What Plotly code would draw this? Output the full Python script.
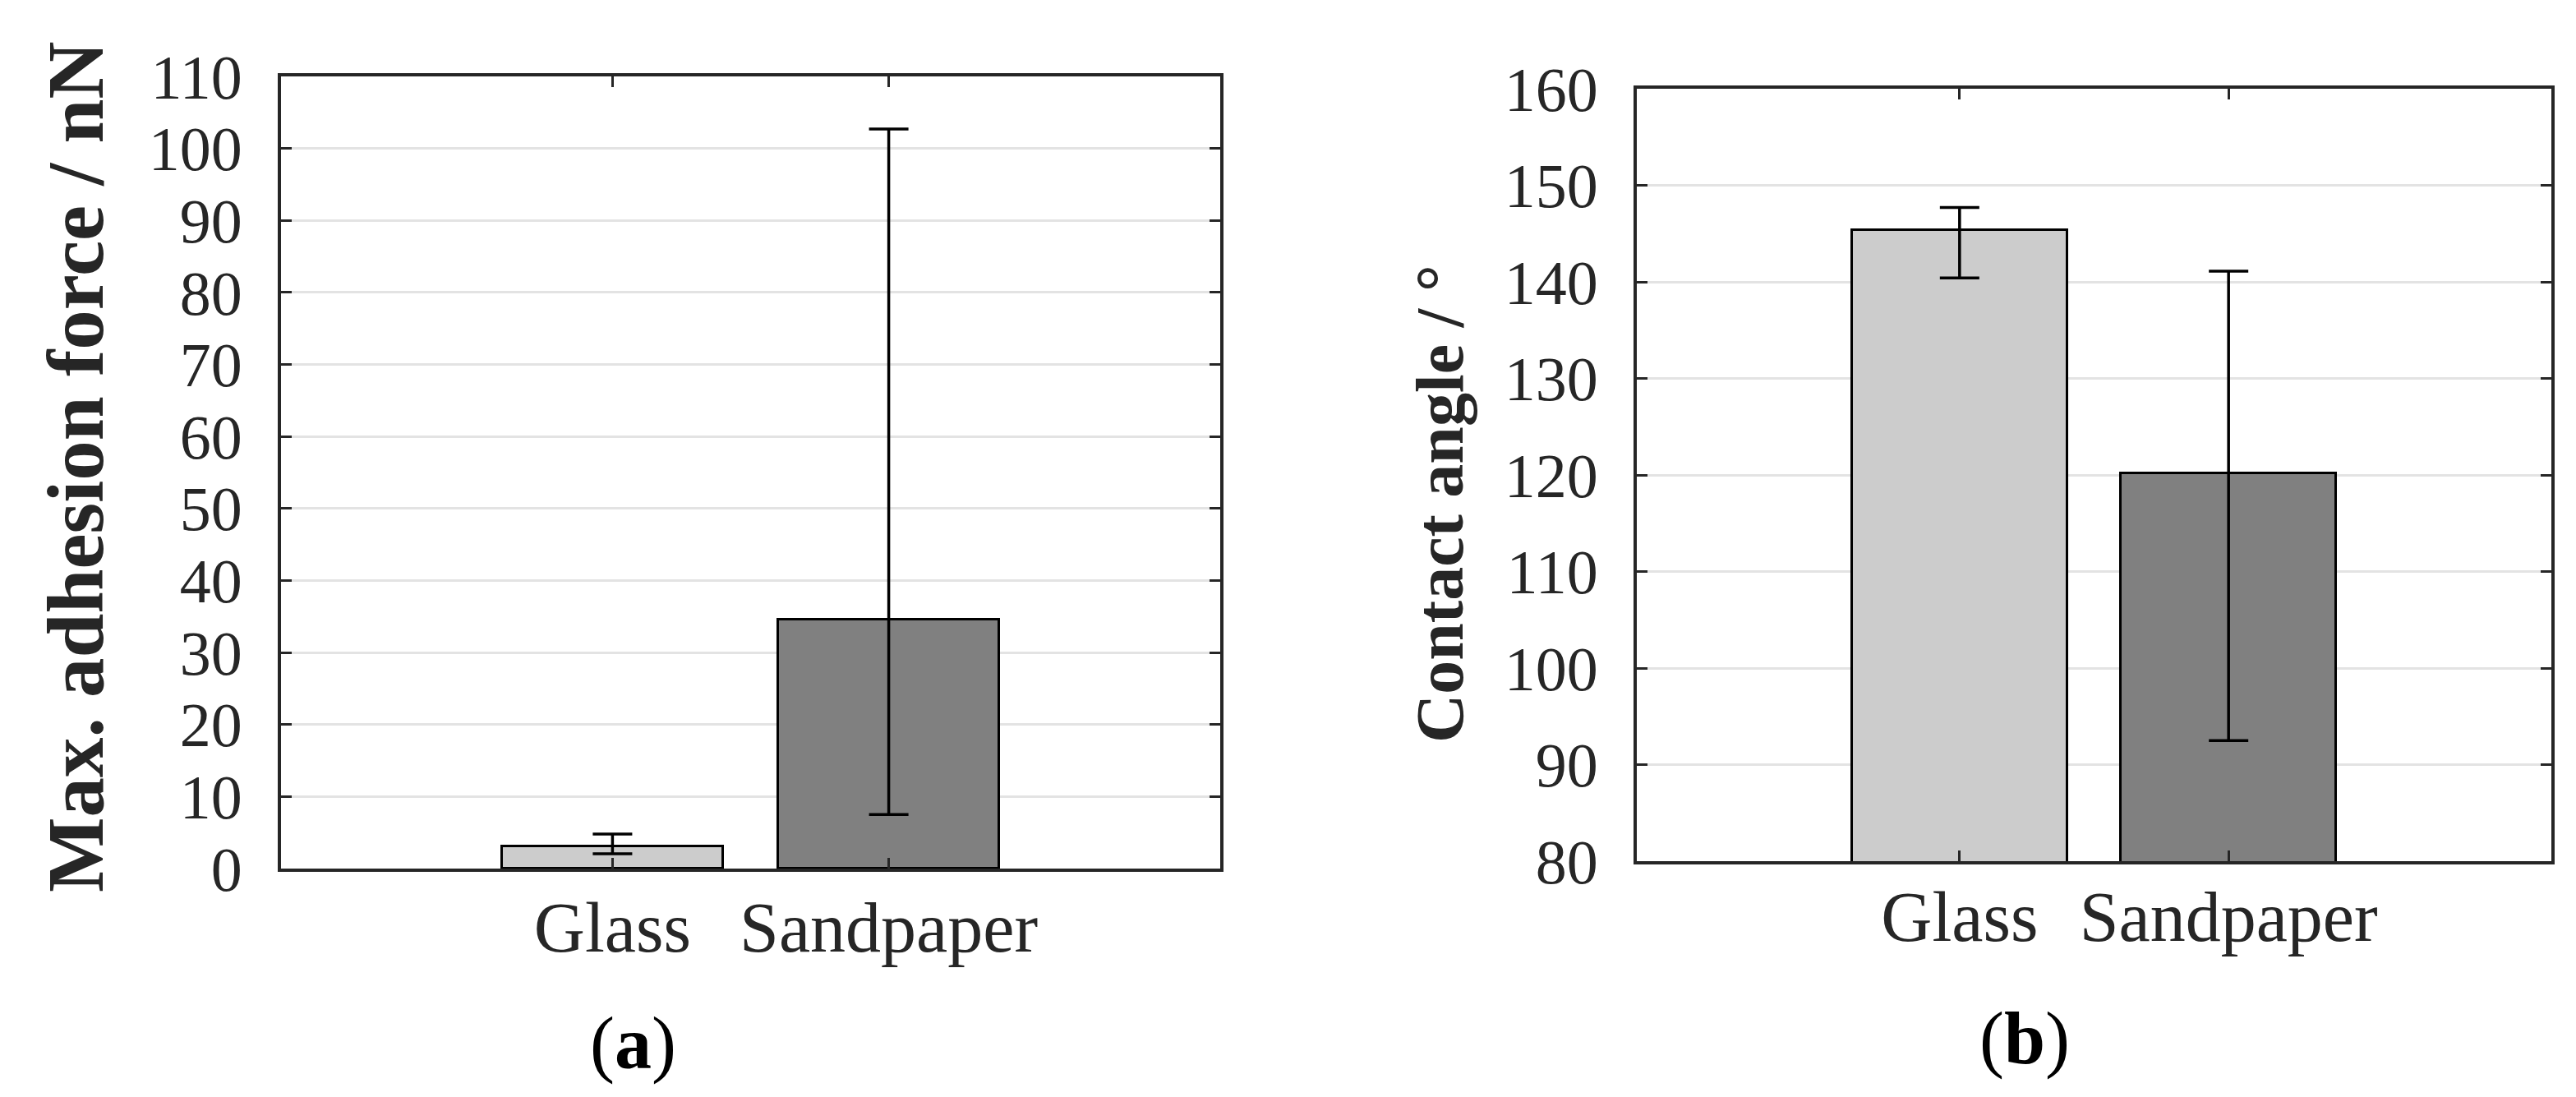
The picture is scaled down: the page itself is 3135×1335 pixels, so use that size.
import plotly.graph_objects as go
from plotly.subplots import make_subplots

# data
surfaces = ["Glass", "Sandpaper"]
positions = [1, 2]
bar_colors = ["#cccccc", "#808080"]

adhesion = [3.1, 34.6]
adhesion_err_plus = [1.7, 68.1]
adhesion_err_minus = [1.05, 27.1]

contact_angle = [145.4, 120.2]
angle_err_plus = [2.3, 20.9]
angle_err_minus = [5.0, 27.7]

W, H = 3135, 1335
FONT = "Liberation Serif"
AX = "#262626"

fig = make_subplots(rows=1, cols=2)

fig.add_trace(go.Bar(
    x=positions, y=adhesion, width=0.8,
    marker=dict(color=bar_colors, line=dict(color="black", width=3)),
    error_y=dict(type="data", array=adhesion_err_plus, arrayminus=adhesion_err_minus,
                 color="black", thickness=3.5, width=24),
    showlegend=False), row=1, col=1)

fig.add_trace(go.Bar(
    x=positions, y=contact_angle, width=0.8,
    marker=dict(color=bar_colors, line=dict(color="black", width=3)),
    error_y=dict(type="data", array=angle_err_plus, arrayminus=angle_err_minus,
                 color="black", thickness=3.5, width=24),
    showlegend=False), row=1, col=2)

common_x = dict(range=[-0.2, 3.2], tickmode="array", tickvals=positions, ticktext=surfaces,
                showline=True, linecolor=AX, linewidth=4, mirror="allticks",
                ticks="inside", ticklen=13, tickwidth=3, tickcolor=AX,
                showgrid=False, zeroline=False, automargin=False,
                tickfont=dict(family=FONT, size=86, color="#262626"))
common_y = dict(dtick=10, showline=True, linecolor=AX, linewidth=4, mirror="allticks",
                ticks="inside", ticklen=13, tickwidth=3, tickcolor=AX,
                showgrid=True, gridcolor="#e3e3e3", gridwidth=3, zeroline=False,
                ticklabelstandoff=28, automargin=False,
                tickfont=dict(family=FONT, size=76, color="#262626"))

fig.update_xaxes(**common_x, ticklabelstandoff=-6, domain=[334 / W, 1477 / W], row=1, col=1)
fig.update_xaxes(**common_x, ticklabelstandoff=-10, domain=[1984 / W, 3097 / W], row=1, col=2)
fig.update_yaxes(**common_y, range=[0, 110], domain=[1 - 1049 / H, 1 - 85 / H], row=1, col=1)
fig.update_yaxes(**common_y, range=[80, 160], domain=[1 - 1040 / H, 1 - 100 / H], row=1, col=2)

annos = [
    dict(text="<b>Max. adhesion force / nN</b>", x=84 / W, y=1 - 560 / H, textangle=-90,
         font=dict(family=FONT, size=97, color="#262626")),
    dict(text="<b>Contact angle / °</b>", x=1744 / W, y=1 - 605 / H, textangle=-90,
         font=dict(family=FONT, size=82, color="#262626")),
    dict(text="(<b>a</b>)", x=762 / W, y=1 - 1262 / H,
         font=dict(family=FONT, size=90, color="black")),
    dict(text="(<b>b</b>)", x=2456 / W, y=1 - 1256 / H,
         font=dict(family=FONT, size=90, color="black")),
]
for a in annos:
    fig.add_annotation(xref="paper", yref="paper", xanchor="center", yanchor="middle",
                       showarrow=False, **a)

fig.update_layout(width=W, height=H, margin=dict(l=0, r=0, t=0, b=0, autoexpand=False),
                  plot_bgcolor="white", paper_bgcolor="white", bargap=0)

fig.write_html("out.html")
